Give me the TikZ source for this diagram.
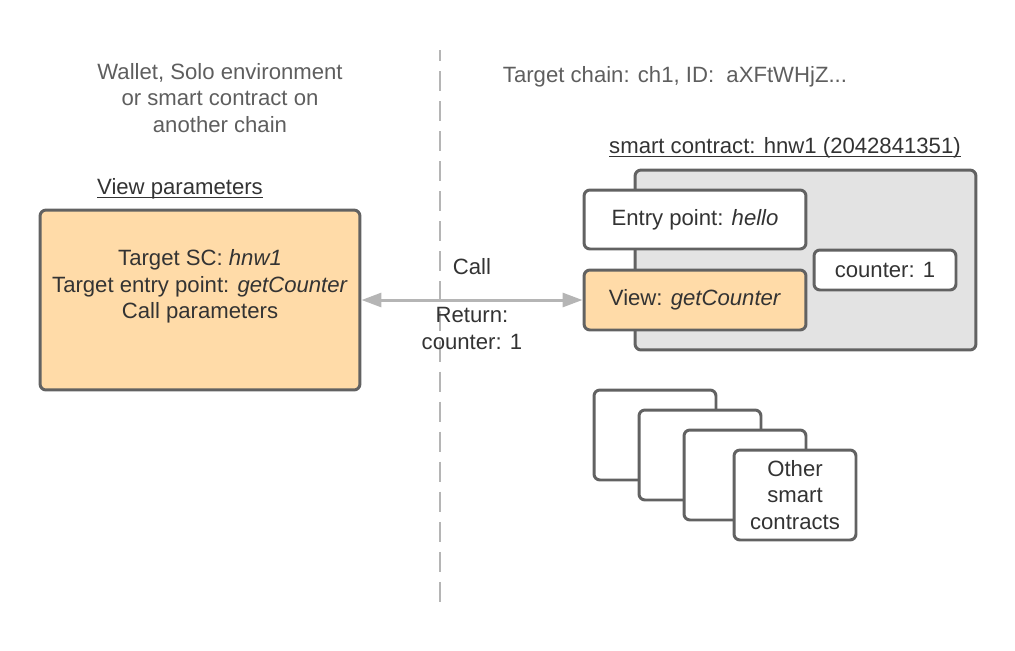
\documentclass[tikz,border=0pt]{standalone}
\usepackage{fontspec}
\setmainfont{Liberation Sans}
\usepackage{xcolor}
\usepackage{tikz}
\usetikzlibrary{arrows.meta}

\definecolor{boxline}{HTML}{626262}
\definecolor{boxorange}{HTML}{FFDBA8}
\definecolor{boxgray}{HTML}{E3E3E3}
\definecolor{textdark}{HTML}{333333}
\definecolor{textgray}{HTML}{5E5E5E}
\definecolor{linegray}{HTML}{B5B5B5}

\newcommand{\undertext}[1]{\setbox0\hbox{#1}\rlap{\rule[-2pt]{\wd0}{0.8pt}}\box0}

\begin{document}
\begin{tikzpicture}[x=0.02cm, y=-0.02cm, font=\fontsize{12.6}{15.1}\selectfont, text=textdark]
        \tikzstyle{block}=[rectangle, rounded corners=0.12cm, draw=boxline, line width=1.7pt, align=center]
        \tikzstyle{view}=[block, fill=boxorange]
        \tikzstyle{plain}=[block, fill=white]
        \tikzstyle{heading}=[text=textgray, align=center]
        \tikzstyle{label}=[text=textdark, align=center]

        \useasboundingbox (0,0) rectangle (1015,650);

        % Caller
        \draw node at (220, 98) [heading] (caller_head) {Wallet, Solo environment\\or smart contract on\\another chain};
        \draw node at (180, 189) [] (params_head) {\undertext{View parameters}};
        \draw node at (200, 300) [view, minimum width=6.4cm, minimum height=3.6cm, text depth=18.2pt] (params) {Target SC: \textit{hnw1}\\Target entry point: \textit{getCounter}\\Call parameters};

        % Split
        \coordinate (split_top) at (440, 50);
        \coordinate (split_bot) at (440, 610);
        \draw [linegray, line width=1.1pt, dash pattern=on 11.4pt off 5.7pt, dash phase=5.1pt] (split_top) -- (split_bot);

        % Target chain
        \draw node at (675, 77) [heading] (chain_head) {Target chain: ch1, ID:~ aXFtWHjZ...};
        \draw node at (785, 148) [] (sc_head) {\undertext{smart contract: hnw1 (2042841351)}};
        \draw node at (805.5, 260) [block, fill=boxgray, minimum width=6.82cm, minimum height=3.6cm] (sc) {};
        \draw node at (695, 219.5) [plain, minimum width=4.44cm, minimum height=1.18cm] (entry) {Entry point: \textit{hello}};
        \draw node at (695, 300) [view, minimum width=4.44cm, minimum height=1.2cm] (view) {View: \textit{getCounter}};
        \draw node at (885, 270) [plain, minimum width=2.84cm, minimum height=0.8cm] (state) {counter: 1};

        % Other contracts
        \foreach \i/\x/\y in {0/655/435, 1/700/455, 2/745/475}
                \draw node at (\x, \y) [plain, minimum width=2.44cm, minimum height=1.8cm] (other_\i) {};
        \draw node at (795, 495) [plain, minimum width=2.44cm, minimum height=1.8cm] (other_3) {Other\\smart\\contracts};

        % Caller <-> View
        \draw [<->, >={Triangle[length=0.4cm, width=0.28cm]}, linegray, line width=1.7pt] (params) to node[label, above=0.36cm] {Call} node[label, below=0cm] {Return:\\counter: 1} (view);

    \end{tikzpicture}
\end{document}
